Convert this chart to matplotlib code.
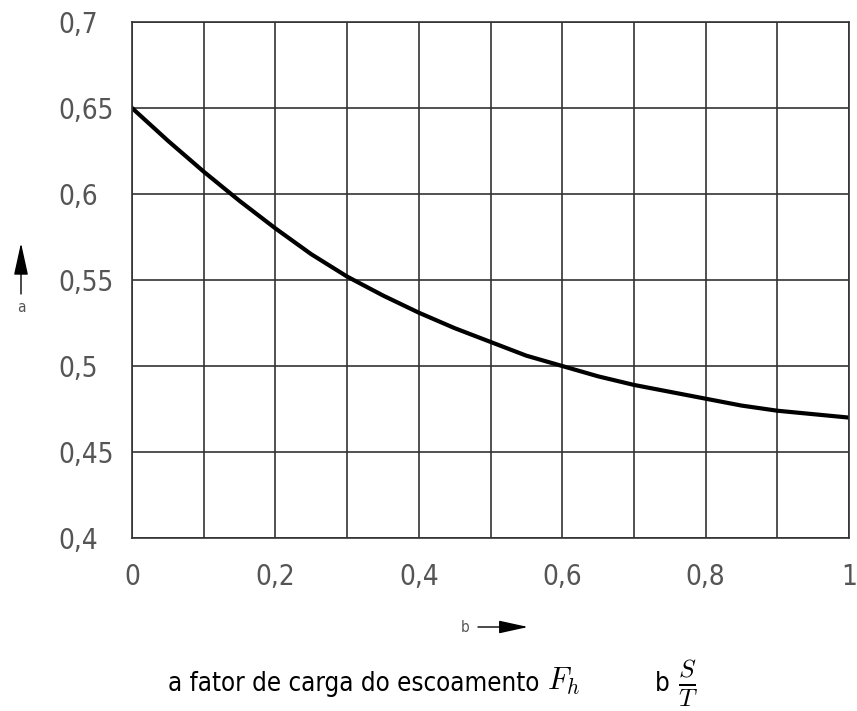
import matplotlib
matplotlib.use("Agg")
import matplotlib.pyplot as plt

# S/T ratio against discharge load factor F_h
s_over_t = [0.0, 0.05, 0.1, 0.15, 0.2, 0.25, 0.3, 0.35, 0.4, 0.45, 0.5,
            0.55, 0.6, 0.65, 0.7, 0.75, 0.8, 0.85, 0.9, 0.95, 1.0]
f_h = [0.650, 0.631, 0.613, 0.596, 0.580, 0.565, 0.552, 0.541, 0.531, 0.522, 0.514,
       0.506, 0.500, 0.494, 0.489, 0.485, 0.481, 0.477, 0.474, 0.472, 0.470]

x_ticks = [0, 0.2, 0.4, 0.6, 0.8, 1.0]
x_labels = ["0", "0,2", "0,4", "0,6", "0,8", "1"]
x_minor = [0.1, 0.3, 0.5, 0.7, 0.9]
y_ticks = [0.4, 0.45, 0.5, 0.55, 0.6, 0.65, 0.7]
y_labels = ["0,4", "0,45", "0,5", "0,55", "0,6", "0,65", "0,7"]

plt.rcParams["mathtext.fontset"] = "cm"
cond = dict(family="DejaVu Sans", stretch="condensed")

W, H = 857, 711
fig = plt.figure(figsize=(W / 100, H / 100), dpi=100)
ax = fig.add_axes([132 / W, 1 - 538 / H, 717 / W, 516 / H])

ax.plot(s_over_t, f_h, color="black", lw=3.0, solid_joinstyle="round")
ax.set_xlim(0, 1)
ax.set_ylim(0.4, 0.7)

grid_kw = dict(color="#333333", lw=1.2)
tick_font = dict(size=20, color="#555555", **cond)
ax.set_xticks(x_ticks, x_labels, **tick_font)
ax.set_xticks(x_minor, minor=True)
ax.set_yticks(y_ticks, y_labels, **tick_font)
ax.grid(True, which="both", **grid_kw)
for s in ax.spines.values():
    s.set_color(grid_kw["color"])
    s.set_linewidth(grid_kw["lw"])
ax.tick_params(which="both", length=0)
ax.tick_params(axis="x", pad=18)
ax.tick_params(axis="y", pad=53)
for lab in ax.get_yticklabels():
    lab.set_horizontalalignment("left")

def fx(px):
    return px / W

def fy(py):
    return 1 - py / H

# axis arrows
fig.text(fx(21), fy(308), "a", ha="center", va="center", size=11, color="#555555", **cond)
ax.annotate("", xy=(fx(21), fy(243)), xytext=(fx(21), fy(294)), xycoords="figure fraction",
            arrowprops=dict(arrowstyle="-|>,head_length=1.0,head_width=0.22",
                            mutation_scale=20, color="black", lw=1.0, shrinkA=0, shrinkB=0))
fig.text(fx(465), fy(628), "b", ha="center", va="center", size=11, color="#555555", **cond)
ax.annotate("", xy=(fx(528), fy(627)), xytext=(fx(478), fy(627)), xycoords="figure fraction",
            arrowprops=dict(arrowstyle="-|>,head_length=1.0,head_width=0.22",
                            mutation_scale=18, color="black", lw=1.0, shrinkA=0, shrinkB=0))

# caption: plain words followed by the math symbols
cap = fig.text(fx(168), fy(684), "a fator de carga do escoamento", ha="left", va="center",
               size=18.5, color="black", **cond)
fig.canvas.draw()
right = cap.get_window_extent().x1
fig.text(right / W + fx(8), fy(681), r"$F_h$", ha="left", va="center", size=22, color="black")
fig.text(fx(655), fy(684), "b", ha="left", va="center", size=18.5, color="black", **cond)
fig.text(fx(678), fy(684), r"$\frac{S}{T}$", ha="left", va="center", size=26, color="black")

fig.savefig("out.png", dpi=100)
